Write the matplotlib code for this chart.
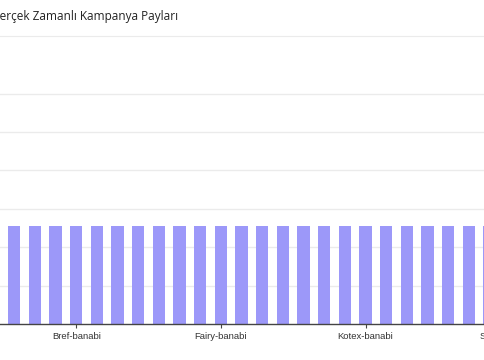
import matplotlib.pyplot as plt

# visible slice of the chart: bar positions (category index) and shares
positions = [0, 1, 2, 3, 4, 5, 6, 7, 8, 9, 10, 11, 12, 13, 14, 15, 16, 17, 18, 19, 20, 21, 22, 23, 24]
shares = [2.56, 2.56, 2.56, 2.56, 2.56, 2.56, 2.56, 2.56, 2.56, 2.56, 2.56, 2.56, 2.56,
          2.56, 2.56, 2.56, 2.56, 2.56, 2.56, 2.56, 2.56, 2.56, 2.56, 2.56, 2.56]
tick_pos = [3, 10, 17, 24]
tick_labels = ['Bref-banabi', 'Fairy-banabi', 'Kotex-banabi', 'Sleepy-banabi']
title = 'Gerçek Zamanlı Kampanya Payları'

W, H = 485, 360
step = 20.67      # px between bars
x0 = 14.2         # px centre of first visible bar
unit = 38.4       # px per y unit

fig = plt.figure(figsize=(W / 100, H / 100), dpi=100)

# axes deliberately wider than the figure, chart is cropped at both sides
ax_left_px, ax_right_px = -60, W + 60
ax = fig.add_axes([ax_left_px / W, 36 / H, (ax_right_px - ax_left_px) / W, 288 / H])
ax.set_xlim((ax_left_px - x0) / step, (ax_right_px - x0) / step)
ax.set_ylim(0, 288 / unit)

ax.bar(positions, shares, width=12.33 / step, color='#9c98f9', zorder=2)

ax.set_yticks([1, 2, 3, 4, 5, 6])
ax.yaxis.grid(True, color='#ebebeb', linewidth=1)
ax.tick_params(axis='y', length=0, labelleft=False)

ax.set_xticks(tick_pos)
ax.set_xticklabels(tick_labels, family='Liberation Sans', fontsize=6.8, color='#333333')
ax.tick_params(axis='x', length=3, width=0.8, color='#444444', pad=3)

for s in ['left', 'right']:
    ax.spines[s].set_visible(False)
ax.spines['top'].set_color('#ebebeb')
ax.spines['bottom'].set_color('#444444')
ax.spines['bottom'].set_linewidth(1)

fig.text(-9 / W, 1 - 20 / H, title, family='Open Sans', fontsize=8.5,
         fontweight='medium', color='#222222', va='baseline', ha='left')

fig.savefig('out.png', dpi=100)
